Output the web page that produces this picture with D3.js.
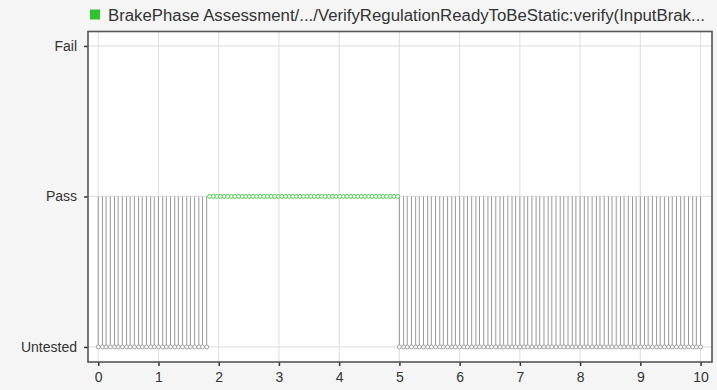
<!DOCTYPE html>
<html>
<head>
<meta charset="utf-8">
<script src="https://cdn.jsdelivr.net/npm/d3@7"></script>
<style>
  html, body { margin: 0; padding: 0; background: #f5f5f5; }
  svg { display: block; font-family: "Liberation Sans", Arial, sans-serif; }
</style>
</head>
<body>
<svg id="chart" width="717" height="390"></svg>
<script>
// Verification status levels (bottom to top)
const statusLevels = ["Untested", "Pass", "Fail"];
const xTickValues = [0, 1, 2, 3, 4, 5, 6, 7, 8, 9, 10];
const signalTitle = "BrakePhase Assessment/.../VerifyRegulationReadyToBeStatic:verify(InputBrak...";

// Samples where the result toggles between Untested and Pass (first interval)
const toggleTimesA = [0, 0.07, 0.13, 0.2, 0.27, 0.33, 0.4, 0.47, 0.53, 0.6, 0.67, 0.73, 0.8, 0.87, 0.93,
  1.0, 1.07, 1.13, 1.2, 1.27, 1.33, 1.4, 1.47, 1.53, 1.6, 1.67, 1.73, 1.8];

// Samples held at Pass
const passTimes = [1.85, 1.91, 1.97, 2.03, 2.09, 2.15, 2.21, 2.27, 2.33, 2.39, 2.45, 2.51, 2.57, 2.63,
  2.69, 2.75, 2.81, 2.87, 2.93, 2.99, 3.05, 3.11, 3.17, 3.23, 3.29, 3.35, 3.41, 3.47, 3.53, 3.59,
  3.65, 3.71, 3.77, 3.83, 3.89, 3.95, 4.01, 4.07, 4.13, 4.19, 4.25, 4.31, 4.37, 4.43, 4.49, 4.55,
  4.61, 4.67, 4.73, 4.79, 4.85, 4.91, 4.97];

// Samples where the result toggles between Untested and Pass (second interval)
const toggleTimesB = [5.0, 5.07, 5.13, 5.2, 5.27, 5.33, 5.4, 5.47, 5.53, 5.6, 5.67, 5.73, 5.8, 5.87, 5.93,
  6.0, 6.07, 6.13, 6.2, 6.27, 6.33, 6.4, 6.47, 6.53, 6.6, 6.67, 6.73, 6.8, 6.87, 6.93,
  7.0, 7.07, 7.13, 7.2, 7.27, 7.33, 7.4, 7.47, 7.53, 7.6, 7.67, 7.73, 7.8, 7.87, 7.93,
  8.0, 8.07, 8.13, 8.2, 8.27, 8.33, 8.4, 8.47, 8.53, 8.6, 8.67, 8.73, 8.8, 8.87, 8.93,
  9.0, 9.07, 9.13, 9.2, 9.27, 9.33, 9.4, 9.47, 9.53, 9.6, 9.67, 9.73, 9.8, 9.87, 9.93, 10.0];

const svg = d3.select("#chart");
const plot = { left: 88, top: 31.5, right: 712, bottom: 362 };

const x = d3.scaleLinear().domain([-0.17, 10.19]).range([plot.left, plot.right]);
const y = d3.scaleLinear().domain([-0.1, 2.096]).range([plot.bottom, plot.top]);
const level = name => statusLevels.indexOf(name);

// Plot background
svg.append("rect")
  .attr("x", plot.left).attr("y", plot.top)
  .attr("width", plot.right - plot.left).attr("height", plot.bottom - plot.top)
  .attr("fill", "#ffffff");

// Grid
const grid = svg.append("g").attr("stroke", "#e3e3e3").attr("stroke-width", 1.2);
grid.selectAll("line.vx").data(xTickValues).join("line")
  .attr("x1", d => x(d)).attr("x2", d => x(d))
  .attr("y1", plot.top).attr("y2", plot.bottom);
grid.selectAll("line.hy").data(statusLevels).join("line")
  .attr("x1", plot.left).attr("x2", plot.right)
  .attr("y1", d => y(level(d))).attr("y2", d => y(level(d)));

// Toggle stems and Untested markers
const toggles = toggleTimesA.concat(toggleTimesB);
svg.append("g").attr("stroke", "#999999").attr("stroke-width", 1)
  .selectAll("line").data(toggles).join("line")
  .attr("x1", d => x(d)).attr("x2", d => x(d))
  .attr("y1", y(level("Untested"))).attr("y2", y(level("Pass")));

[toggleTimesA, toggleTimesB].forEach(ts => {
  svg.append("line")
    .attr("x1", x(ts[0])).attr("x2", x(ts[ts.length - 1]))
    .attr("y1", y(level("Untested"))).attr("y2", y(level("Untested")))
    .attr("stroke", "#a0a0a0").attr("stroke-width", 1);
});
svg.append("g").selectAll("circle").data(toggles).join("circle")
  .attr("cx", d => x(d)).attr("cy", y(level("Untested"))).attr("r", 2)
  .attr("fill", "#ffffff").attr("stroke", "#a0a0a0").attr("stroke-width", 1);

// Pass samples
svg.append("line")
  .attr("x1", x(passTimes[0])).attr("x2", x(passTimes[passTimes.length - 1]))
  .attr("y1", y(level("Pass"))).attr("y2", y(level("Pass")))
  .attr("stroke", "#5ed35e").attr("stroke-width", 1);
svg.append("g").selectAll("circle").data(passTimes).join("circle")
  .attr("cx", d => x(d)).attr("cy", y(level("Pass"))).attr("r", 2)
  .attr("fill", "#ffffff").attr("stroke", "#4fcf4f").attr("stroke-width", 1);

// Axes
const xAxis = d3.axisBottom(x).tickValues(xTickValues).tickFormat(d3.format("d")).tickSize(4).tickPadding(6);
const yAxis = d3.axisLeft(y).tickValues(statusLevels.map((d, i) => i))
  .tickFormat(i => statusLevels[i]).tickSize(4).tickPadding(7);

const gx = svg.append("g").attr("transform", `translate(0,${plot.bottom})`).call(xAxis);
const gy = svg.append("g").attr("transform", `translate(${plot.left},0)`).call(yAxis);
[gx, gy].forEach(g => {
  g.select(".domain").remove();
  g.selectAll(".tick line").attr("stroke", "#333").attr("stroke-width", 1.5);
  g.selectAll(".tick text").attr("fill", "#333").attr("font-size", 14)
    .attr("font-family", "'Liberation Sans', Arial, sans-serif");
});

// Frame
svg.append("rect")
  .attr("x", plot.left).attr("y", plot.top)
  .attr("width", plot.right - plot.left).attr("height", plot.bottom - plot.top)
  .attr("fill", "none").attr("stroke", "#555").attr("stroke-width", 1.6);

// Legend / title
svg.append("rect").attr("x", 90).attr("y", 9.5).attr("width", 10).attr("height", 10).attr("fill", "#2ec42e");
svg.append("text").attr("x", 108).attr("y", 21)
  .attr("font-size", 16).attr("fill", "#333")
  .attr("textLength", 597).attr("lengthAdjust", "spacingAndGlyphs")
  .text(signalTitle);
</script>
</body>
</html>
